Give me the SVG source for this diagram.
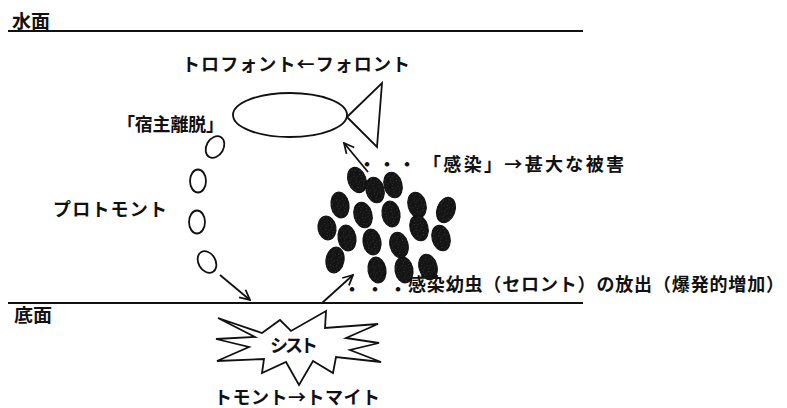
<svg xmlns="http://www.w3.org/2000/svg" width="787" height="408" viewBox="0 0 787 408">
  <style>
    .lbl { font-family: "Noto Sans CJK JP", "Noto Sans", sans-serif; font-size: 18px; font-weight: 700; fill: #111; }
    .ln { stroke: #111; stroke-width: 1.8; fill: none; }
    .open { stroke: #111; stroke-width: 1.8; fill: #fff; }
    .blob { fill: url(#stipple); stroke: #111; stroke-width: 1; }
    .arrow { stroke: #111; stroke-width: 1.8; fill: none; marker-end: url(#head); }
  </style>
  <defs>
    <marker id="head" viewBox="0 0 12 12" refX="11" refY="6" markerWidth="12" markerHeight="12" markerUnits="userSpaceOnUse" orient="auto">
      <path d="M1,1 L11,6 L1,11" fill="none" stroke="#111" stroke-width="1.8"/>
    </marker>
    <!-- dark grain used for the released theronts -->
    <pattern id="stipple" width="6" height="6" patternUnits="userSpaceOnUse">
      <rect width="6" height="6" fill="#141414"/>
      <rect x="1" y="1" width="0.7" height="0.7" fill="#666"/>
      <rect x="4" y="2.5" width="0.7" height="0.7" fill="#555"/>
      <rect x="2.2" y="4.4" width="0.7" height="0.7" fill="#5a5a5a"/>
    </pattern>
  </defs>

  <rect width="787" height="408" fill="#fff"/>

  <!-- water surface -->
  <g id="surface">
    <text class="lbl" x="12" y="28" textLength="38" lengthAdjust="spacingAndGlyphs">水面</text>
    <line class="ln" x1="8" y1="31" x2="583" y2="31"/>
  </g>

  <!-- bottom -->
  <g id="bottom">
    <line class="ln" x1="8" y1="303" x2="583" y2="303"/>
    <text class="lbl" x="14" y="322" textLength="38" lengthAdjust="spacingAndGlyphs">底面</text>
  </g>

  <!-- trophont on the host fish -->
  <g id="trophont">
    <text class="lbl" x="182" y="71" textLength="228" lengthAdjust="spacing">トロフォント←フォロント</text>
    <ellipse class="ln" cx="290" cy="115" rx="57" ry="22"/>
    <polyline class="ln" points="347,117 382,83 377,147 347,117"/>
  </g>

  <!-- protomont leaving the host -->
  <g id="protomont">
    <text class="lbl" x="117" y="131" textLength="107" lengthAdjust="spacing">「宿主離脱」</text>
    <text class="lbl" x="53" y="216" textLength="114" lengthAdjust="spacing">プロトモント</text>
    <ellipse class="open" cx="215" cy="147" rx="8.5" ry="11.5" transform="rotate(30 215 147)"/>
    <ellipse class="open" cx="198" cy="181" rx="8" ry="11.5"/>
    <ellipse class="open" cx="197" cy="222" rx="8" ry="11.5"/>
    <ellipse class="open" cx="207" cy="262" rx="8.5" ry="11.5" transform="rotate(-30 207 262)"/>
  </g>

  <!-- cyst on the bottom -->
  <g id="cyst">
    <polygon class="open" points="218,318 262,333 280,320 291,331 326,311 325,328 378,324 346,338 379,343 350,350 381,362 336,357 333,373 313,361 299,385 286,362 262,373 264,359 217,361 249,347 216,339 255,337"/>
    <text class="lbl" x="270" y="352" textLength="48" lengthAdjust="spacing">シスト</text>
    <text class="lbl" x="214" y="404" textLength="166" lengthAdjust="spacing">トモント→トマイト</text>
  </g>

  <!-- theronts released in large numbers -->
  <g id="theronts">
    <ellipse class="blob" cx="357" cy="180" rx="9" ry="13" transform="rotate(-20 357 180)"/>
    <ellipse class="blob" cx="375" cy="190" rx="9" ry="13" transform="rotate(-15 375 190)"/>
    <ellipse class="blob" cx="393" cy="185" rx="9" ry="13" transform="rotate(-15 393 185)"/>
    <ellipse class="blob" cx="340" cy="205" rx="9" ry="13" transform="rotate(-10 340 205)"/>
    <ellipse class="blob" cx="363" cy="215" rx="9" ry="13" transform="rotate(-15 363 215)"/>
    <ellipse class="blob" cx="391" cy="214" rx="9" ry="13" transform="rotate(-10 391 214)"/>
    <ellipse class="blob" cx="417" cy="205" rx="9" ry="13" transform="rotate(-15 417 205)"/>
    <ellipse class="blob" cx="446" cy="210" rx="9" ry="13" transform="rotate(20 446 210)"/>
    <ellipse class="blob" cx="327" cy="228" rx="9" ry="12" transform="rotate(-10 327 228)"/>
    <ellipse class="blob" cx="347" cy="238" rx="9" ry="13" transform="rotate(-10 347 238)"/>
    <ellipse class="blob" cx="372" cy="242" rx="9" ry="13" transform="rotate(-10 372 242)"/>
    <ellipse class="blob" cx="399" cy="245" rx="9" ry="13" transform="rotate(-15 399 245)"/>
    <ellipse class="blob" cx="419" cy="228" rx="9" ry="13" transform="rotate(-15 419 228)"/>
    <ellipse class="blob" cx="441" cy="238" rx="9" ry="13" transform="rotate(-15 441 238)"/>
    <ellipse class="blob" cx="335" cy="260" rx="9" ry="13" transform="rotate(10 335 260)"/>
    <ellipse class="blob" cx="377" cy="270" rx="9" ry="13" transform="rotate(-10 377 270)"/>
    <ellipse class="blob" cx="404" cy="270" rx="9" ry="13" transform="rotate(-10 404 270)"/>
    <ellipse class="blob" cx="428" cy="267" rx="9" ry="13" transform="rotate(-15 428 267)"/>
    <text class="lbl" x="358" y="171" textLength="58" lengthAdjust="spacing">・・・</text>
    <text class="lbl" x="423" y="171" textLength="201" lengthAdjust="spacing">「感染」→甚大な被害</text>
    <text class="lbl" x="343" y="296" textLength="64" lengthAdjust="spacing">・・・</text>
    <text class="lbl" x="408" y="291" textLength="376" lengthAdjust="spacing">感染幼虫（セロント）の放出（爆発的増加）</text>
  </g>

  <!-- connectors -->
  <g id="connectors">
    <line class="arrow" x1="368" y1="172" x2="344" y2="143"/>
    <line class="arrow" x1="220" y1="275" x2="250" y2="300"/>
    <line class="arrow" x1="322" y1="303" x2="353" y2="275"/>
  </g>
</svg>
